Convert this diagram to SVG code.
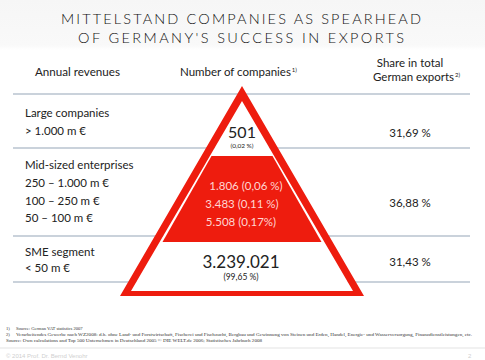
<svg xmlns="http://www.w3.org/2000/svg" width="485" height="360" viewBox="0 0 485 360">
<defs>
<linearGradient id="tbg" x1="0" y1="0" x2="0" y2="1">
<stop offset="0" stop-color="#f6f6f6"/>
<stop offset="0.9" stop-color="#f9f9f9"/>
<stop offset="1" stop-color="#ffffff"/>
</linearGradient>
<style>
.t{font-family:Lato,"Liberation Sans",sans-serif;fill:#222}
.title{font-size:14.5px;font-weight:300;fill:#111}
.h{font-size:11.5px}
.r{font-size:11.5px}
.pink{fill:#ffd6d2;font-size:11.5px}
.sup{font-size:6px}
.fn{font-family:"Liberation Serif",serif;font-size:4.6px;fill:#333}
.rule{stroke:#b8c3cf;stroke-width:1.5}
.red{fill:#ee1c0e}
</style>
</defs>
<rect width="485" height="360" fill="#fff"/>
<rect width="485" height="50" fill="url(#tbg)"/>
<g id="title">
<text class="t title" x="241" y="24" text-anchor="middle" textLength="360" lengthAdjust="spacing">MITTELSTAND COMPANIES AS SPEARHEAD</text>
<text class="t title" x="241" y="43" text-anchor="middle" textLength="326" lengthAdjust="spacing">OF GERMANY'S SUCCESS IN EXPORTS</text>
</g>
<g id="headers">
<text class="t h" x="35" y="76" textLength="85" lengthAdjust="spacingAndGlyphs">Annual revenues</text>
<text class="t h" x="180" y="76">Number of companies<tspan class="sup" dx="1" dy="-4">1)</tspan></text>
<text class="t h" x="410" y="67" text-anchor="middle">Share in total</text>
<text class="t h" x="373" y="81" font-size="11">German exports<tspan class="sup" dx="1" dy="-4">2)</tspan></text>
</g>
<g id="connectors">
<line class="rule" x1="13" y1="94" x2="470" y2="94"/>
<line class="rule" x1="13" y1="148" x2="470" y2="148"/>
<line class="rule" x1="13" y1="236" x2="470" y2="236"/>
<line class="rule" x1="13" y1="282" x2="470" y2="282"/>
</g>
<g id="pyramid">
<polygon points="242,101 131,291 353,291" fill="#fff"/>
<path class="red" fill-rule="evenodd" d="M242,86 L120,296 L364,296 Z M242,101 L131,291 L353,291 Z"/>
<polygon class="red" points="211.5,156 272.5,156 321.5,242 162.5,242"/>
</g>
<g id="row-large">
<text class="t r" x="25" y="117">Large companies</text>
<text class="t r" x="25" y="135">&gt; 1.000 m €</text>
<text class="t" x="242" y="138" font-size="16" text-anchor="middle">501</text>
<text class="t" x="242" y="148" font-size="6.5" text-anchor="middle">(0,02 %)</text>
<text class="t r" x="410" y="137" text-anchor="middle">31,69 %</text>
</g>
<g id="row-mid">
<text class="t r" x="25" y="169">Mid-sized enterprises</text>
<text class="t r" x="25" y="187">250 – 1.000 m €</text>
<text class="t r" x="25" y="205">100 – 250 m €</text>
<text class="t r" x="25" y="222">50 – 100 m €</text>
<text class="t pink" x="246" y="190" text-anchor="middle">1.806 (0,06 %)</text>
<text class="t pink" x="242" y="208" text-anchor="middle">3.483 (0,11 %)</text>
<text class="t pink" x="241" y="226" text-anchor="middle">5.508 (0,17%)</text>
<text class="t r" x="410" y="207" text-anchor="middle">36,88 %</text>
</g>
<g id="row-sme">
<text class="t r" x="25" y="256">SME segment</text>
<text class="t r" x="25" y="272">&lt; 50 m €</text>
<text class="t" x="241" y="268" font-size="17" text-anchor="middle">3.239.021</text>
<text class="t" x="241" y="280" font-size="8.5" text-anchor="middle">(99,65 %)</text>
<text class="t r" x="410" y="266" text-anchor="middle">31,43 %</text>
</g>
<g id="footnotes">
<text class="fn" x="6" y="330">1)</text>
<text class="fn" x="16" y="330">Source: German VAT statistics 2007</text>
<text class="fn" x="6" y="336">2)</text>
<text class="fn" x="16" y="336" textLength="456" lengthAdjust="spacingAndGlyphs">Verarbeitendes Gewerbe nach WZ2008: d.h. ohne Land- und Forstwirtschaft, Fischerei und Fischzucht, Bergbau und Gewinnung von Steinen und Erden, Handel, Energie- und Wasserversorgung, Finanzdienstleistungen, etc.</text>
<text class="fn" x="6" y="342" textLength="256" lengthAdjust="spacingAndGlyphs">Source: Own calculations and Top 500 Unternehmen in Deutschland 2005 © DIE WELT.de 2006; Statistisches Jahrbuch 2008</text>
<line x1="0" y1="348" x2="485" y2="348" stroke="#ececec" stroke-width="1.5"/>
<text x="6" y="358" font-family="'Liberation Sans',sans-serif" font-size="6" fill="#cfcfcf">© 2014 Prof. Dr. Bernd Venohr</text>
<text x="468" y="358" font-family="'Liberation Sans',sans-serif" font-size="6" fill="#cfcfcf">2</text>
</g>
</svg>
